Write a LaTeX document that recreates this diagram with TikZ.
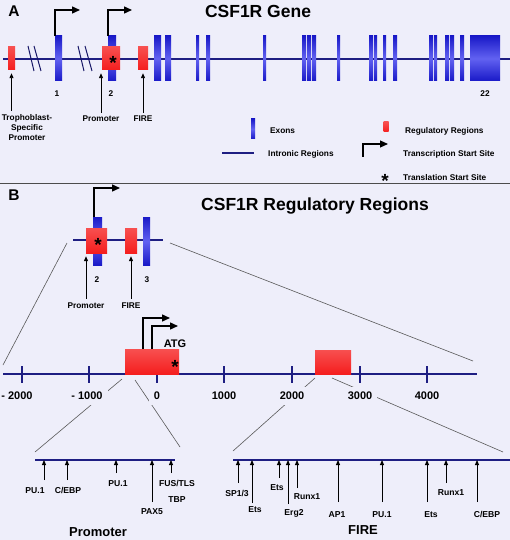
\documentclass[tikz,border=0pt]{standalone}
\usepackage{fontspec}
\setmainfont{Liberation Sans}
\usetikzlibrary{arrows.meta}
\usetikzlibrary{calc}
\usetikzlibrary{positioning}

\definecolor{bgcol}{RGB}{238,238,250}
\definecolor{intron}{RGB}{30,30,130}
\definecolor{exonblue}{RGB}{30,30,235}
\definecolor{regred}{RGB}{245,30,30}

\tikzset{
  txt/.style={inner sep=0pt, font=\bfseries\fontsize{8.3}{10}\selectfont},
  lbl/.style={txt, text height=6pt, text depth=0pt},
  tflbl/.style={lbl, font=\bfseries\fontsize{8.6}{10}\selectfont, text height=6.2pt},
  axlbl/.style={fill=bgcol, inner xsep=5pt, inner ysep=5pt, font=\bfseries\fontsize{11}{13}\selectfont, text height=7.9pt, text depth=0pt},
  maintitle/.style={inner sep=0pt, font=\bfseries\fontsize{17.5}{20}\selectfont, text height=12.5pt, text depth=0pt},
  panel/.style={inner sep=0pt, font=\bfseries\fontsize{15.5}{18}\selectfont, text height=11.1pt, text depth=0pt},
  region/.style={inner sep=0pt, font=\bfseries\fontsize{13}{15}\selectfont, text height=9.3pt, text depth=0pt},
  transl/.style={inner sep=0pt, font=\bfseries\fontsize{19}{20}\selectfont},
  exon/.style={top color=exonblue!85!black, bottom color=exonblue!85!black, middle color=exonblue!70!white},
  regbox/.style={draw=none, inner sep=0pt, top color=regred!78!white, bottom color=regred},
  intronline/.style={draw=intron, line width=1.5pt},
  detline/.style={draw=intron, line width=2pt},
  tssarrow/.style={line width=1.4pt, -{Triangle[length=8pt,width=7pt]}},
  uparrow/.style={line width=0.9pt, -{Triangle[length=5pt,width=4pt]}},
  zoomline/.style={draw=black!65, line width=0.6pt},
  breakmark/.style={draw=intron!80!black, line width=1pt}
}

\begin{document}
\begin{tikzpicture}[x=1pt,y=-1pt]
\useasboundingbox (0,0) rectangle (510,540);
\fill[bgcol] (0,0) rectangle (510,540);

% ---------- panel A: the whole gene
\node[panel] (labA) at (14,11) {A};
\node[maintitle] (titA) at (258,11) {CSF1R Gene};

\draw[intronline] (3,59) -- (510,59);
\foreach \a/\b in {55/62,108/116,154/161,165/171,196/199,206/210,263/266,302/306,307/311,312/316,337/340,369/373,374/377,383/386,393/397,429/433,434/437,445/449,450/454,460/464,470/474,474/500}
  \shade[exon] (\a,36) rectangle (\b,81);

% breaks in the line
\draw[breakmark] (28,46) -- (34,71) (34,46) -- (41,71);
\draw[breakmark] (78,46) -- (84,71) (85,46) -- (92,71);

\node[regbox, minimum width=7pt, minimum height=23pt] (trop) at (11.5,58.5) {};
\node[regbox, minimum width=18pt, minimum height=23pt] (promA) at (111,58.5) {};
\node[regbox, minimum width=10pt, minimum height=23pt] (fireA) at (143,58.5) {};
\node[transl] (atgA) at (113,63) {*};

\coordinate (ex1) at (55,36);
\coordinate (ex2) at (108,36);
\draw[tssarrow] (ex1) |- (80,10);
\draw[tssarrow] (ex2) |- (132,10);

\node[lbl] (numA1) at (57,94) {1};
\node[lbl] (numA2) at (111,94) {2};
\node[lbl] (numA22) at (485,94) {22};

\node[txt, align=center, anchor=north] (tropLab) at (27,114) {Trophoblast-\\Specific\\Promoter};
\node[lbl] (promALab) at (101,119) {Promoter};
\node[lbl] (fireALab) at (143,119) {FIRE};
\draw[uparrow] ([yshift=3pt]tropLab.north -| trop.south) -- ([yshift=-3pt]trop.south);
\draw[uparrow] ([yshift=3pt]promALab.north) -- ([yshift=-3pt]promALab.north |- promA.south);
\draw[uparrow] ([yshift=3pt]fireALab.north) -- ([yshift=-3pt]fireA.south);

% legend
\shade[exon] (251,119) rectangle (255,139);
\node[lbl, anchor=west] (legExon) at (270,131) {Exons};
\draw[intronline] (222,153) -- (254,153);
\node[lbl, anchor=west] (legIntron) at (268,154) {Intronic Regions};
\node[regbox, minimum width=5pt, minimum height=10pt] (legReg) at (386,127) {};
\node[lbl, anchor=west] (legRegLab) at (405,131) {Regulatory Regions};
\coordinate (legTss) at (363,157);
\draw[tssarrow, line width=1.2pt] (legTss) |- (388,144);
\node[lbl, anchor=west] (legTssLab) at (403,154) {Transcription Start Site};
\node[transl] (legAtg) at (385,181) {*};
\node[lbl, anchor=west] (legAtgLab) at (403,177) {Translation Start Site};

\draw[black!70, line width=1pt] (0,183) -- (510,183);

% ---------- panel B: the regulatory regions
\node[panel] (labB) at (14,195) {B};
\node[maintitle] (titB) at (315,204) {CSF1R Regulatory Regions};

\draw[intronline] (73,240) -- (163,240);
\shade[exon] (93,217) rectangle (102,265);
\shade[exon] (143,217) rectangle (150,265);
\node[regbox, minimum width=21pt, minimum height=25pt] (promB) at (96.5,240.5) {};
\node[regbox, minimum width=12pt, minimum height=25pt] (fireB) at (131,240.5) {};
\node[transl] (atgB) at (98,245) {*};
\coordinate (exB2) at (94,217);
\draw[tssarrow] (exB2) |- (120,188);

\node[lbl] (numB2) at (97,279) {2};
\node[lbl] (numB3) at (147,279) {3};
\node[lbl] (promBLab) at (86,305) {Promoter};
\node[lbl] (fireBLab) at (131,305) {FIRE};
\draw[uparrow] ([yshift=3pt]promBLab.north) -- ([yshift=-3pt]promBLab.north |- promB.south);
\draw[uparrow] ([yshift=3pt]fireBLab.north) -- ([yshift=-3pt]fireB.south);

% zoom to the scale
\coordinate (smallL) at (67,243);
\coordinate (smallR) at (170,243);
\coordinate (axisL) at (3,365);
\coordinate (axisR) at (473,361);
\draw[zoomline] (smallL) -- (axisL);
\draw[zoomline] (smallR) -- (axisR);

% scale
\draw[intronline] (3,374) -- (477,374);
\foreach \x in {22,89,157,224,292,360,427}
  \draw[draw=intron, line width=1.3pt] (\x,366) -- (\x,383);

\node[regbox, minimum width=54pt, minimum height=25pt] (promC) at (152,361.5) {};
\node[regbox, minimum width=36pt, minimum height=24pt] (fireC) at (333,362) {};
\node[transl] (atgC) at (175,367) {*};
\coordinate (tssC1) at (143,349);
\coordinate (tssC2) at (152,349);
\draw[tssarrow] (tssC1) |- (170,318);
\draw[tssarrow] (tssC2) |- (178,326);
\node[txt, font=\bfseries\fontsize{11}{13}\selectfont, text height=7.9pt, text depth=0pt] (atgLab) at (175,344) {ATG};

% zoom to the details
\coordinate (prl) at (35,460);
\coordinate (prr) at (175,460);
\coordinate (fil) at (233,460);
\coordinate (fir) at (510,460);
\coordinate (pzl) at (122,379);
\coordinate (pzr) at (135,380);
\coordinate (fzl) at (315,378);
\coordinate (fzr) at (332,378);
\draw[zoomline] (pzl) -- (35,452);
\draw[zoomline] (pzr) -- (180,447);
\draw[zoomline] (fzl) -- (233,451);
\draw[zoomline] (fzr) -- (503,452);

\node[axlbl] (tk1) at (17,396) {- 2000};
\node[axlbl] (tk2) at (87,396) {- 1000};
\node[axlbl] (tk3) at (157,396) {0};
\node[axlbl] (tk4) at (224,396) {1000};
\node[axlbl] (tk5) at (292,396) {2000};
\node[axlbl] (tk6) at (360,396) {3000};
\node[axlbl] (tk7) at (427,396) {4000};

% promoter detail
\draw[detline] (prl) -- (prr);
\foreach \xa/\ya/\xl/\yl/\tf [count=\i] in {44/480/35/490/PU.1, 67/480/68/490/{C/EBP}, 116/473/118/483/PU.1, 152/502/152/511/PAX5, 171/473/177/483/{FUS/TLS}} {
  \node[tflbl] (ptf\i) at (\xl,\yl) {\tf};
  \coordinate (pta\i) at (\xa,\ya);
  \draw[uparrow] (pta\i) -- (pta\i |- prl);
}
\node[tflbl] (tbp) at (177,499) {TBP};
\node[region] (promTitle) at (98,532) {Promoter};

% FIRE detail
\draw[detline] (fil) -- (fir);
\foreach \xa/\ya/\xl/\yl/\tf [count=\i] in {238/483/237/493/{SP1/3}, 252/503/255/509/Ets, 279/478/277/487/Ets, 288/504/294/512/Erg2, 297/488/307/496/Runx1, 338/502/337/514/AP1, 382/502/382/514/PU.1, 427/502/431/514/Ets, 446/483/451/492/Runx1, 477/502/487/514/{C/EBP}} {
  \node[tflbl] (ftf\i) at (\xl,\yl) {\tf};
  \coordinate (fta\i) at (\xa,\ya);
  \draw[uparrow] (fta\i) -- (fta\i |- fil);
}
\node[region] (fireTitle) at (363,530) {FIRE};

\end{tikzpicture}
\end{document}
